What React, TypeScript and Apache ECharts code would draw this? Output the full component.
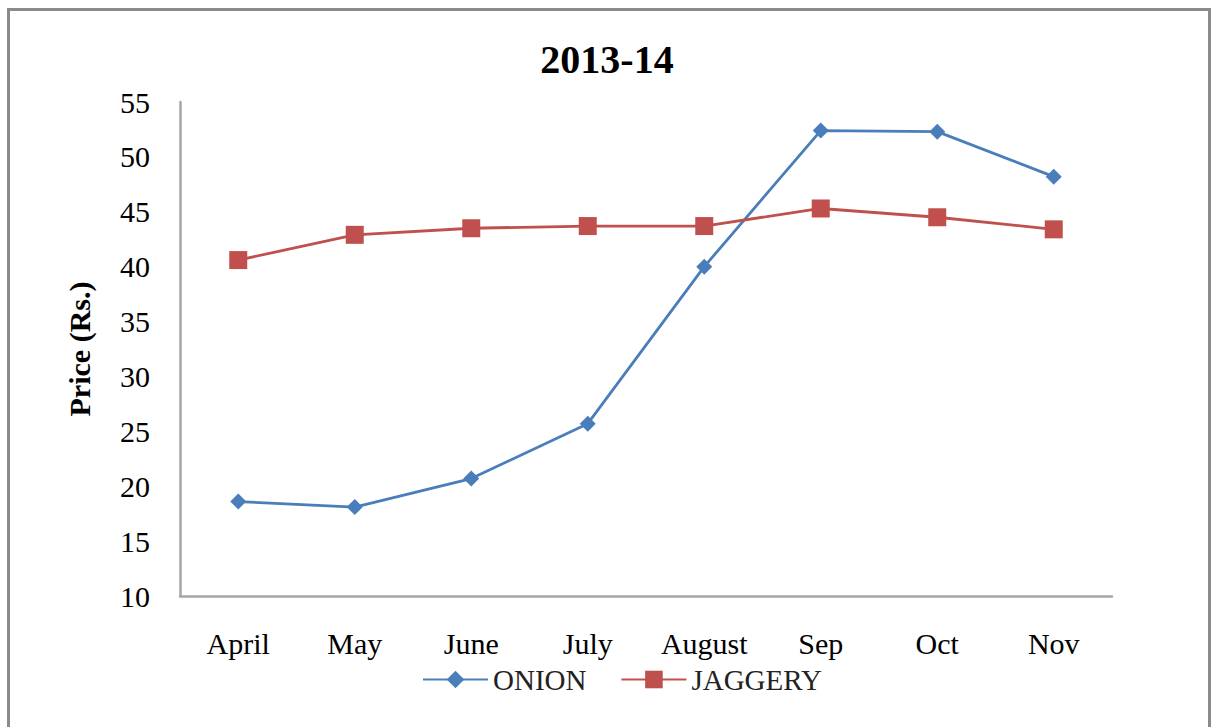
import React, { useEffect, useRef } from "react";
import * as echarts from "echarts";

const months = ["April", "May", "June", "July", "August", "Sep", "Oct", "Nov"];
const onion = [18.6, 18.1, 20.7, 25.7, 40.0, 52.4, 52.3, 48.2];
const jaggery = [40.6, 42.9, 43.5, 43.7, 43.7, 45.3, 44.5, 43.4];
const legendNames = ["ONION", "JAGGERY"];
const yMin = 10;
const yMax = 55;
const yStep = 5;

const FONT = "'Liberation Serif', 'Times New Roman', serif";

export default function App() {
  const ref = useRef<HTMLDivElement>(null);
  useEffect(() => {
    document.body.style.margin = "0";
    const chart = echarts.init(ref.current!, undefined, { renderer: "svg" });
    const legendText = { fontFamily: FONT, fontSize: 29, color: "#222", fontWeight: "normal" };
    chart.setOption({
      animation: false,
      backgroundColor: "#ffffff",
      textStyle: { fontFamily: FONT },
      title: {
        text: "2013-14",
        left: "center",
        top: 34,
        textStyle: { fontFamily: FONT, fontSize: 40, fontWeight: "bold", color: "#000" },
      },
      graphic: [
        {
          type: "rect",
          shape: { x: 8.5, y: 9.5, width: 1201, height: 760 },
          style: { fill: "none", stroke: "#8a8a8a", lineWidth: 3 },
          silent: true,
        },
      ],
      legend: {
        left: 417,
        top: 660,
        itemWidth: 65,
        itemHeight: 22,
        itemGap: 34,
        textStyle: legendText,
        data: legendNames.map((n) => ({ name: n, textStyle: legendText })),
      },
      grid: { left: 180, right: 102, top: 102, bottom: 131 },
      xAxis: {
        type: "category",
        data: months,
        boundaryGap: true,
        axisLine: { lineStyle: { color: "#a6a6a6", width: 2.5 } },
        axisTick: { show: false },
        axisLabel: { fontFamily: FONT, fontSize: 30, color: "#000", margin: 32 },
        splitLine: { show: false },
      },
      yAxis: {
        type: "value",
        min: yMin,
        max: yMax,
        interval: yStep,
        name: "Price (Rs.)",
        nameLocation: "middle",
        nameRotate: 90,
        nameGap: 86,
        nameTextStyle: { fontFamily: FONT, fontSize: 30, fontWeight: "bold", color: "#000" },
        axisLine: { show: true, lineStyle: { color: "#a6a6a6", width: 2.5 } },
        axisTick: { show: false },
        axisLabel: { fontFamily: FONT, fontSize: 30, color: "#000", margin: 30 },
        splitLine: { show: false },
      },
      series: [
        {
          name: legendNames[0],
          type: "line",
          data: onion,
          symbol: "diamond",
          symbolSize: 16,
          color: "#4a7ebb",
          lineStyle: { color: "#4a7ebb", width: 2.8 },
          itemStyle: { color: "#4a7ebb" },
        },
        {
          name: legendNames[1],
          type: "line",
          data: jaggery,
          symbol: "rect",
          symbolSize: 18,
          color: "#c0504d",
          lineStyle: { color: "#c0504d", width: 2.8 },
          itemStyle: { color: "#c0504d" },
        },
      ],
    });
    return () => chart.dispose();
  }, []);
  return <div ref={ref} style={{ width: 1214, height: 727 }} />;
}
